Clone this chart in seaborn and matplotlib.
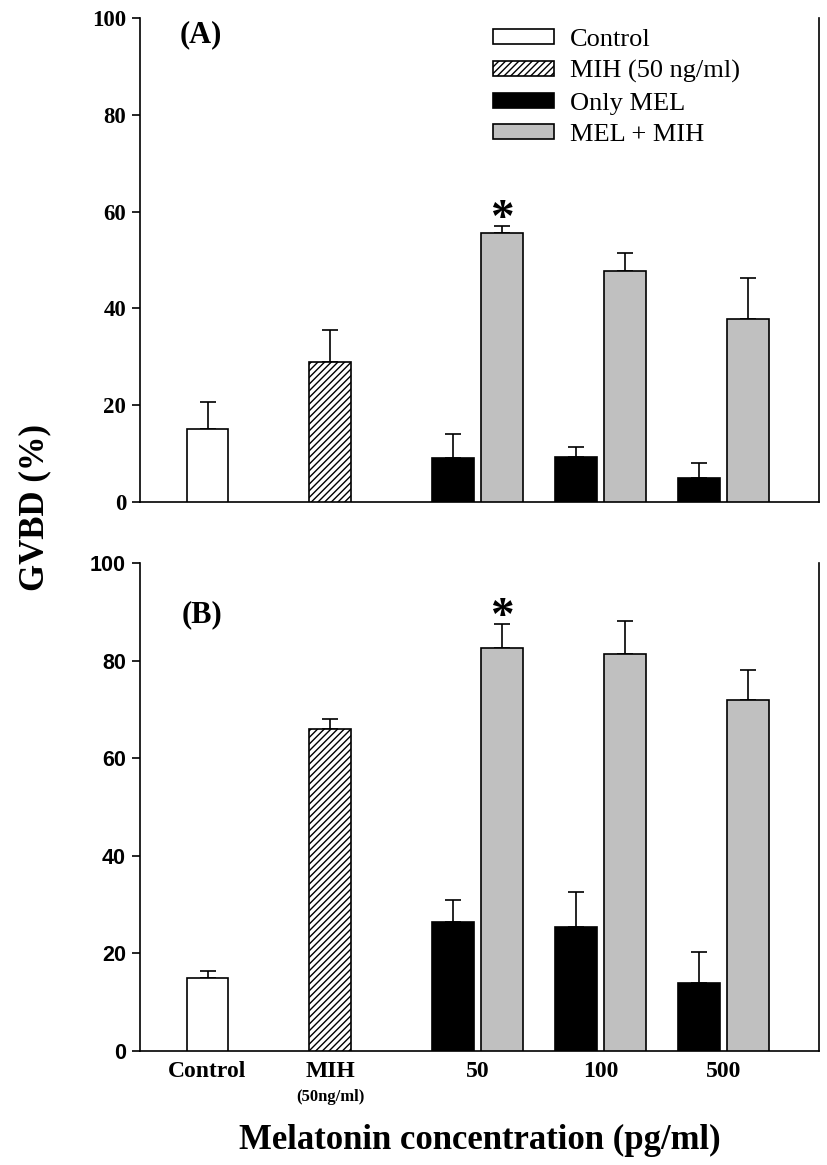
import numpy as np
import pandas as pd
import matplotlib
matplotlib.use("Agg")
import matplotlib.pyplot as plt
import seaborn as sns
from matplotlib.patches import Patch

# datos
grupos = ["Control", "MIH (50 ng/ml)", "Only MEL", "MEL + MIH"]
colores = {"Control": "#ffffff", "MIH (50 ng/ml)": "#ffffff",
           "Only MEL": "#000000", "MEL + MIH": "#c0c0c0"}
concentraciones = ["50", "100", "500"]

# panel A
ctrl_a, ctrl_a_err = 15.0, 5.7
mih_a, mih_a_err = 29.0, 6.5
mel_a = [9.0, 9.2, 5.0]
mel_a_err = [5.0, 2.1, 3.0]
melmih_a = [55.5, 47.8, 37.8]
melmih_a_err = [1.5, 3.7, 8.4]

# panel B
ctrl_b, ctrl_b_err = 15.0, 1.3
mih_b, mih_b_err = 66.0, 2.0
mel_b = [26.5, 25.3, 14.0]
mel_b_err = [4.5, 7.2, 6.2]
melmih_b = [82.5, 81.3, 72.0]
melmih_b_err = [5.0, 6.7, 6.0]

sns.set_style("ticks")
plt.rcParams["font.family"] = ["Liberation Serif", "DejaVu Serif"]
plt.rcParams["hatch.linewidth"] = 1.0
plt.rcParams["text.color"] = "black"
plt.rcParams["xtick.color"] = "black"
plt.rcParams["ytick.color"] = "black"
plt.rcParams["axes.edgecolor"] = "black"

fig = plt.figure(figsize=(8.27, 11.65), dpi=100)
ax_a = fig.add_axes([0.1693, 0.5691, 0.821, 0.4154])
ax_b = fig.add_axes([0.1693, 0.0979, 0.821, 0.4189])


def armar_df(ctrl, ctrl_err, mih, mih_err, mel, mel_err, melmih, melmih_err):
    filas = [(0.0, ctrl, ctrl_err, "Control"), (1.0, mih, mih_err, "MIH (50 ng/ml)")]
    for i in range(3):
        filas.append((2.0 + i, mel[i], mel_err[i], "Only MEL"))
        filas.append((2.4 + i, melmih[i], melmih_err[i], "MEL + MIH"))
    return pd.DataFrame(filas, columns=["pos", "valor", "err", "grupo"])


def dibujar(ax, df, tick_font):
    sns.barplot(data=df, x="pos", y="valor", hue="grupo", hue_order=grupos,
                palette=colores, native_scale=True, dodge=False, width=0.85,
                edgecolor="black", linewidth=1.2, legend=False, ax=ax, zorder=3)
    for p in ax.patches:
        cx = p.get_x() + p.get_width() / 2
        if abs(cx - 1.0) < 0.05:
            p.set_hatch("/////")
    # barras de error solo hacia arriba
    ax.errorbar(df["pos"], df["valor"], yerr=[np.zeros(len(df)), df["err"]],
                fmt="none", ecolor="black", elinewidth=1.2, capsize=6,
                capthick=1.2, zorder=2)
    ax.set_xlim(-0.55, 4.98)
    ax.set_ylim(0, 100)
    ax.set_yticks([0, 20, 40, 60, 80, 100])
    ax.set_xlabel("")
    ax.set_ylabel("")
    ax.spines["top"].set_visible(False)
    for s in ["left", "right", "bottom"]:
        ax.spines[s].set_linewidth(1.2)
    ax.tick_params(axis="y", direction="out", length=6, width=1.2, pad=4)
    ax.tick_params(axis="x", length=0)
    for t in ax.get_yticklabels():
        t.set_fontfamily(tick_font)
        t.set_fontweight("bold")
        t.set_fontsize(16.5)


df_a = armar_df(ctrl_a, ctrl_a_err, mih_a, mih_a_err, mel_a, mel_a_err, melmih_a, melmih_a_err)
df_b = armar_df(ctrl_b, ctrl_b_err, mih_b, mih_b_err, mel_b, mel_b_err, melmih_b, melmih_b_err)

dibujar(ax_a, df_a, "Liberation Serif")
dibujar(ax_b, df_b, "Liberation Sans")
for t in ax_b.get_yticklabels():
    t.set_fontsize(15.5)

ax_a.set_xticks([])
ax_b.set_xticks([0, 1, 2.2, 3.2, 4.2])
ax_b.set_xticklabels(["Control", "MIH"] + concentraciones, fontsize=17,
                     fontweight="bold")
ax_b.tick_params(axis="x", pad=7)
ax_b.text(1.0, -0.094, "(50ng/ml)", transform=ax_b.get_xaxis_transform(),
          ha="center", va="center", fontsize=12, fontweight="bold")

# asteriscos de significancia
ax_a.text(2.4, melmih_a[0] + melmih_a_err[0] - 1.0, "*", ha="center",
          va="baseline", fontsize=34, fontweight="bold")
ax_b.text(2.4, melmih_b[0] + melmih_b_err[0] - 1.0, "*", ha="center",
          va="baseline", fontsize=34, fontweight="bold")

ax_a.text(0.059, 0.965, "(A)", transform=ax_a.transAxes, ha="left", va="center",
          fontsize=22, fontweight="bold")
ax_b.text(0.062, 0.893, "(B)", transform=ax_b.transAxes, ha="left", va="center",
          fontsize=22, fontweight="bold")

handles = [Patch(facecolor=colores[g], edgecolor="black", linewidth=1.2,
                 hatch="/////" if g.startswith("MIH") else None) for g in grupos]
ax_a.legend(handles, grupos, loc="upper left", bbox_to_anchor=(0.52, 0.978),
            frameon=False, fontsize=19, handlelength=2.3, handleheight=0.5,
            handletextpad=0.6, labelspacing=0.36, borderpad=0, borderaxespad=0)

fig.text(0.042, 0.564, "GVBD (%)", rotation=90, ha="center", va="center",
         fontsize=25, fontweight="bold")
fig.text(0.58, 0.021, "Melatonin concentration (pg/ml)", ha="center",
         va="center", fontsize=25, fontweight="bold")

fig.savefig("out.png", dpi=100)
